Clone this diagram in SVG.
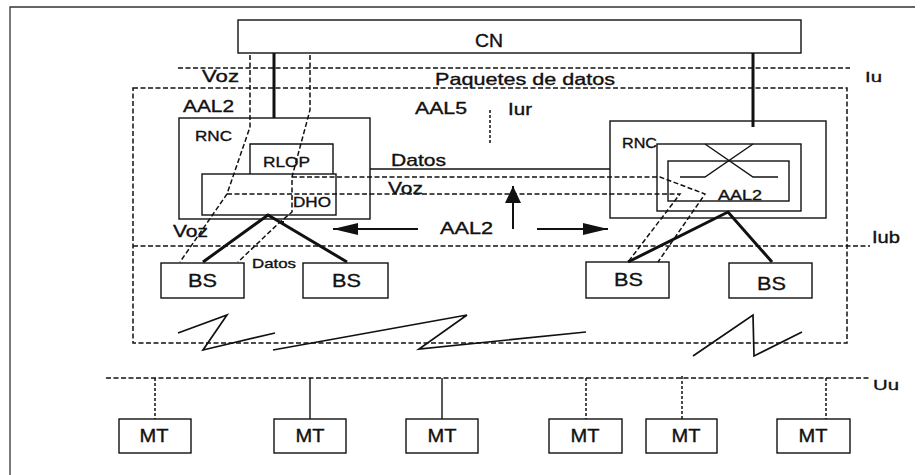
<svg xmlns="http://www.w3.org/2000/svg" width="920" height="475" viewBox="0 0 920 475">
<style>
.t{font-family:"Liberation Sans",Arial,Helvetica,sans-serif;fill:#111;stroke:#111;stroke-width:0.35}
.box{fill:none;stroke:#111;stroke-width:1.4}
.dash{fill:none;stroke:#111;stroke-width:1.5;stroke-dasharray:5 2.5}
.dot{fill:none;stroke:#111;stroke-width:1.5;stroke-dasharray:3 2}
.heavy{fill:none;stroke:#111;stroke-width:3}
.thin{fill:none;stroke:#111;stroke-width:1.4}
.zz{fill:none;stroke:#111;stroke-width:1.7}
.arr{fill:none;stroke:#111;stroke-width:2}
</style>
<defs>
<marker id="ah" markerUnits="userSpaceOnUse" markerWidth="26" markerHeight="14" refX="25" refY="7" orient="auto">
<path d="M0,1 L25,7 L0,13 z" fill="#111"/>
</marker>
<marker id="ahUp" markerUnits="userSpaceOnUse" markerWidth="18" markerHeight="18" refX="17" refY="8" orient="auto">
<path d="M0,0 L17,8 L0,16 z" fill="#111"/>
</marker>
</defs>
<rect width="920" height="475" fill="#fff"/>

<!-- outer frame -->
<path d="M10,475 L10,7 L915,7" fill="none" stroke="#333" stroke-width="1.3"/>

<!-- interface lines and domain box -->
<g id="interfaces">
<line class="dash" x1="178" y1="68" x2="850" y2="68"/>
<rect class="dash" x="133" y="88" width="714" height="255"/>
<line class="dash" x1="133" y1="246" x2="870" y2="246"/>
<line class="dash" x1="106" y1="378" x2="870" y2="378"/>
<line class="dot" x1="490" y1="110" x2="490" y2="143"/>
</g>

<!-- CN -->
<g id="CN">
<rect class="box" x="238" y="20" width="563" height="33"/>
<text class="t" x="475" y="47" font-size="18" textLength="28" lengthAdjust="spacingAndGlyphs">CN</text>
</g>

<!-- Left RNC -->
<g id="RNC1">
<rect class="box" x="179" y="118" width="191" height="101"/>
<text class="t" x="195" y="141" font-size="14" textLength="37" lengthAdjust="spacingAndGlyphs">RNC</text>
<path class="box" d="M250,174 L250,144 L333,144 L333,174"/>
<text class="t" x="263" y="167" font-size="15" textLength="47" lengthAdjust="spacingAndGlyphs">RLOP</text>
<rect class="box" x="202" y="174" width="134" height="41"/>
<text class="t" x="293" y="207" font-size="14" textLength="38" lengthAdjust="spacingAndGlyphs">DHO</text>
</g>

<!-- Right RNC -->
<g id="RNC2">
<rect class="box" x="610" y="121" width="216" height="97"/>
<text class="t" x="622" y="148" font-size="14" textLength="35" lengthAdjust="spacingAndGlyphs">RNC</text>
<rect class="box" x="657" y="144" width="144" height="67"/>
<rect class="box" x="668" y="161" width="121" height="40"/>
<path class="thin" d="M705,144 L753,177 L778,177 M753,144 L705,177 L680,177"/>
<text class="t" x="718" y="200" font-size="14" textLength="44" lengthAdjust="spacingAndGlyphs">AAL2</text>
</g>

<!-- Base stations -->
<g id="BS1"><rect class="box" x="161" y="263" width="83" height="35"/><text class="t" x="188" y="287" font-size="19" textLength="29" lengthAdjust="spacingAndGlyphs">BS</text></g>
<g id="BS2"><rect class="box" x="303" y="263" width="85" height="35"/><text class="t" x="332" y="287" font-size="19" textLength="29" lengthAdjust="spacingAndGlyphs">BS</text></g>
<g id="BS3"><rect class="box" x="586" y="262" width="83" height="36"/><text class="t" x="614" y="286" font-size="19" textLength="29" lengthAdjust="spacingAndGlyphs">BS</text></g>
<g id="BS4"><rect class="box" x="729" y="263" width="83" height="35"/><text class="t" x="757" y="290" font-size="19" textLength="29" lengthAdjust="spacingAndGlyphs">BS</text></g>

<!-- Mobile terminals -->
<g id="MT1"><rect class="box" x="119" y="419" width="72" height="34"/><text class="t" x="154" y="442" font-size="18" text-anchor="middle" textLength="29" lengthAdjust="spacingAndGlyphs">MT</text></g>
<g id="MT2"><rect class="box" x="274" y="419" width="72" height="34"/><text class="t" x="310" y="442" font-size="18" text-anchor="middle" textLength="29" lengthAdjust="spacingAndGlyphs">MT</text></g>
<g id="MT3"><rect class="box" x="406" y="419" width="72" height="34"/><text class="t" x="442" y="442" font-size="18" text-anchor="middle" textLength="29" lengthAdjust="spacingAndGlyphs">MT</text></g>
<g id="MT4"><rect class="box" x="549" y="419" width="73" height="34"/><text class="t" x="585" y="442" font-size="18" text-anchor="middle" textLength="29" lengthAdjust="spacingAndGlyphs">MT</text></g>
<g id="MT5"><rect class="box" x="646" y="419" width="71" height="34"/><text class="t" x="686" y="442" font-size="18" text-anchor="middle" textLength="29" lengthAdjust="spacingAndGlyphs">MT</text></g>
<g id="MT6"><rect class="box" x="777" y="419" width="73" height="34"/><text class="t" x="813" y="442" font-size="18" text-anchor="middle" textLength="29" lengthAdjust="spacingAndGlyphs">MT</text></g>

<!-- Connectors -->
<g id="connectors">
<line class="heavy" x1="274" y1="53" x2="274" y2="118"/>
<line class="heavy" x1="753" y1="53" x2="753" y2="127"/>
<path class="heavy" d="M203,262 L268,215 L347,262"/>
<path class="heavy" d="M628,262 L728,212 L772,262"/>
<rect x="266" y="214" width="4" height="3" fill="#111"/>
<rect x="280" y="221" width="4" height="3" fill="#111"/>
<!-- voice path -->
<path class="dash" d="M250,55 L250,127 L227,194 L180,262"/>
<path class="dash" d="M227,194 L680,194 L628,262"/>
<!-- data path -->
<path class="dash" d="M310,55 L310,110 L292,177 L292,212 L280,222 L238,262"/>
<path class="dash" d="M292,177 L660,177 L705,194 L658,262"/>
<line class="thin" x1="370" y1="169" x2="610" y2="169"/>
<!-- AAL2 arrows -->
<line class="arr" x1="418" y1="229" x2="333" y2="229" marker-end="url(#ah)"/>
<line class="arr" x1="537" y1="229" x2="608" y2="229" marker-end="url(#ah)"/>
<line class="arr" x1="513" y1="229" x2="513" y2="186" marker-end="url(#ahUp)"/>
<!-- radio links -->
<polyline class="zz" points="178,333 227,315 203,350 275,333"/>
<polyline class="zz" points="273,350 467,315 419,349 586,332"/>
<polyline class="zz" points="693,356 753,315 754,356 802,332"/>
<!-- MT drops -->
<line class="dot" x1="155" y1="378" x2="155" y2="419"/>
<line class="thin" x1="310" y1="378" x2="310" y2="419"/>
<line class="thin" x1="442" y1="378" x2="442" y2="419"/>
<line class="dot" x1="586" y1="378" x2="586" y2="419"/>
<line class="dot" x1="682" y1="376" x2="682" y2="419"/>
<line class="dot" x1="826" y1="378" x2="826" y2="419"/>
</g>

<!-- Labels -->
<g id="labels">
<text class="t" x="202" y="82" font-size="16" textLength="37" lengthAdjust="spacingAndGlyphs">Voz</text>
<text class="t" x="435" y="85" font-size="16.5" textLength="180" lengthAdjust="spacingAndGlyphs">Paquetes de datos</text>
<text class="t" x="865" y="82" font-size="15" textLength="17" lengthAdjust="spacingAndGlyphs">Iu</text>
<text class="t" x="183" y="112" font-size="16" textLength="51" lengthAdjust="spacingAndGlyphs">AAL2</text>
<text class="t" x="415" y="114" font-size="16.5" textLength="52" lengthAdjust="spacingAndGlyphs">AAL5</text>
<text class="t" x="508" y="115" font-size="16.5" textLength="24" lengthAdjust="spacingAndGlyphs">Iur</text>
<text class="t" x="391" y="166" font-size="17" textLength="55" lengthAdjust="spacingAndGlyphs">Datos</text>
<text class="t" x="388" y="194" font-size="16" textLength="35" lengthAdjust="spacingAndGlyphs">Voz</text>
<text class="t" x="440" y="234" font-size="17" textLength="53" lengthAdjust="spacingAndGlyphs">AAL2</text>
<text class="t" x="173" y="237" font-size="16" textLength="35" lengthAdjust="spacingAndGlyphs">Voz</text>
<text class="t" x="872" y="243" font-size="16" textLength="28" lengthAdjust="spacingAndGlyphs">Iub</text>
<text class="t" x="252" y="268" font-size="13" textLength="44" lengthAdjust="spacingAndGlyphs">Datos</text>
<text class="t" x="873" y="390" font-size="15" textLength="26" lengthAdjust="spacingAndGlyphs">Uu</text>
</g>
</svg>
